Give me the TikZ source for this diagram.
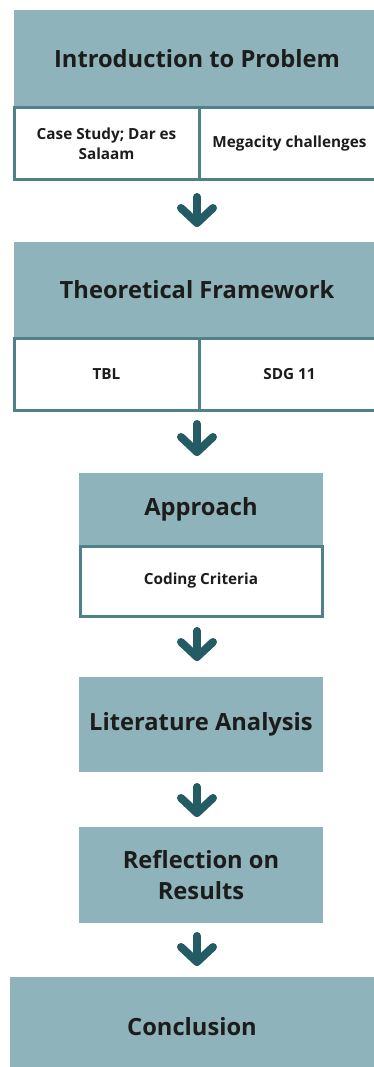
\documentclass[tikz,border=0pt]{standalone}
\usepackage{fontspec}
\setmainfont{Open Sans}
\definecolor{tealfill}{HTML}{8EB3BA}
\definecolor{tealedge}{HTML}{4F8189}
\definecolor{arrowteal}{HTML}{245C65}
\definecolor{ink}{HTML}{1C1C1C}
\tikzset{
  titlebox/.style={fill=tealfill, inner sep=0pt, text=ink, align=center,
    font=\fontsize{23.7}{31.5}\selectfont\bfseries},
  subcell/.style={fill=white, draw=tealedge, line width=3pt, inner sep=0pt,
    text=ink, align=center, font=\fontsize{15.3}{20}\selectfont\bfseries},
  stem/.style={draw=arrowteal, line width=8pt, line cap=round},
  chevron/.style={draw=arrowteal, line width=8pt, line cap=round, line join=round},
}
\newcommand{\downarrowicon}[3]{% x, top y, tip y
  \draw[stem] (#1,#2) -- (#1,#3);
  \draw[chevron] (#1-16,#3-15) -- (#1,#3) -- (#1+16,#3-15);
}
\begin{document}
\begin{tikzpicture}[x=1pt,y=-1pt]
\useasboundingbox (0,0) rectangle (374,1067);
\clip (0,0) rectangle (374,1067);

% Introduction
\node[titlebox, minimum width=366pt, minimum height=97pt] (t1) at (197,58.5) {Introduction to Problem};
\node[subcell, minimum width=185pt, minimum height=72pt] (s1a) at (106.5,144) {Case Study; Dar es\\Salaam};
\node[subcell, minimum width=181pt, minimum height=72pt] (s1b) at (289.5,144) {Megacity challenges};

\downarrowicon{197}{197}{223}

% Theoretical framework
\node[titlebox, minimum width=366pt, minimum height=96pt] (t2) at (197,290) {Theoretical Framework};
\node[subcell, minimum width=185pt, minimum height=72pt] (s2a) at (106.5,374) {TBL};
\node[subcell, minimum width=181pt, minimum height=72pt] (s2b) at (289.5,374) {SDG 11};

\downarrowicon{197}{424}{452}

% Approach
\node[titlebox, minimum width=244pt, minimum height=72pt] (t3) at (201,509) {Approach};
\node[subcell, minimum width=242pt, minimum height=70pt] (s3) at (201,581) {Coding Criteria};

\downarrowicon{197}{631}{657}

% Literature analysis
\node[titlebox, minimum width=244pt, minimum height=95pt] (t4) at (201,724.5) {Literature Analysis};

\downarrowicon{197}{787}{813}

% Reflection
\node[titlebox, minimum width=244pt, minimum height=96pt] (t5) at (201,875) {Reflection on\\Results};

\downarrowicon{197}{936}{962}

% Conclusion
\node[titlebox, minimum width=364pt, minimum height=100pt] (t6) at (192,1027) {Conclusion};
\end{tikzpicture}
\end{document}
